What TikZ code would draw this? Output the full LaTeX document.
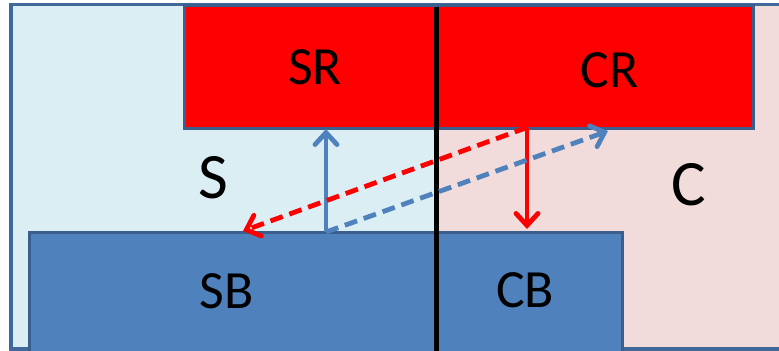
\documentclass[tikz,border=0pt]{standalone}
\usepackage{fontspec}
\setmainfont{Carlito}
\usetikzlibrary{arrows.meta}
\definecolor{lblue}{HTML}{DBEEF3}
\definecolor{lpink}{HTML}{F2DCDB}
\definecolor{bord}{HTML}{41689B}
\definecolor{sblue}{HTML}{4F81BD}
\definecolor{sred}{HTML}{FF0000}
\definecolor{rbord}{HTML}{3A5F8C}
\tikzset{
  region/.style={draw=bord, line width=3.5bp},
  box/.style={draw=rbord, line width=3bp, inner sep=0pt, rectangle},
  lbl/.style={inner sep=0pt, font=\fontsize{54}{60}\selectfont},
  biglbl/.style={inner sep=0pt, font=\fontsize{65}{70}\selectfont},
  arr/.style={line width=4.8bp, -{Straight Barb[length=12bp,width=22bp,line cap=round]}},
  dsh/.style={dash pattern=on 13bp off 7bp}
}
\begin{document}
\begin{tikzpicture}[x=1bp,y=-1bp]
\useasboundingbox (0,0) rectangle (779,350);
% regions
\draw[region, fill=lblue] (11,4.5) rectangle (436,349);
\draw[region, fill=lpink] (436,4.5) rectangle (800,349);
% boxes
\node[box, fill=sred, minimum width=568bp, minimum height=122.5bp] (R) at (469,66.75) {};
\node[box, fill=sblue, minimum width=592bp, minimum height=127.5bp] (B) at (326,296.25) {};
% divider
\coordinate (dtop) at (436.5,6.5);
\coordinate (dbot) at (436.5,352);
\draw[line width=5bp, black] (dtop) -- (dbot);
% connector points
\coordinate (sbUp) at (326,232);
\coordinate (srDown) at (326,129);
\coordinate (crOut) at (527,127.5);
\coordinate (cbIn) at (527,229);
\coordinate (sbIn) at (243,231);
\coordinate (crIn) at (608,131);
% arrows
\draw[arr, sblue] (sbUp) -- (srDown);
\draw[arr, sred] (crOut) -- (cbIn);
\draw[arr, dsh, sred] (crOut) -- (sbIn);
\draw[arr, dsh, sblue] (sbUp) -- (crIn);
% labels
\node[lbl] (tSR) at (315,67) {SR};
\node[lbl] (tCR) at (609.5,70.5) {CR};
\node[lbl] (tSB) at (226.5,291.5) {SB};
\node[lbl] (tCB) at (525,290.5) {CB};
\node[biglbl] (tS) at (213,177.5) {S};
\node[biglbl] (tC) at (689,184.5) {C};
\end{tikzpicture}
\end{document}
